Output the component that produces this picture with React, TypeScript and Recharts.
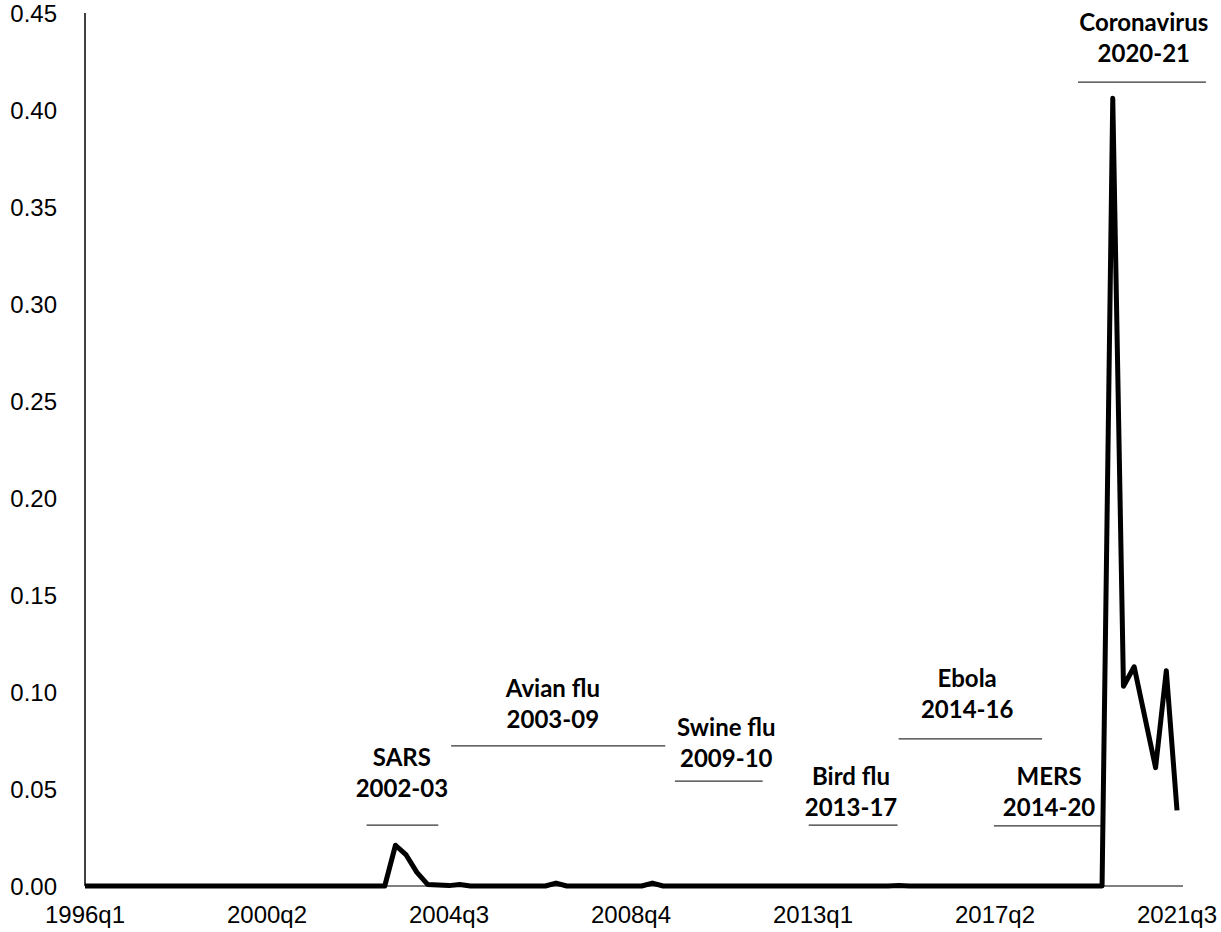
import React from 'react'
import { LineChart, Line, XAxis, YAxis, ReferenceLine, ReferenceDot } from 'recharts'

// quarterly labels, 1996q1 .. 2021q3
const QUARTERS = Array.from({ length: 103 }, (_, i) => `${1996 + Math.floor(i / 4)}q${(i % 4) + 1}`)

// pandemic uncertainty index, one row per year
const VALUES = [
  0, 0, 0, 0, // 1996
  0, 0, 0, 0, // 1997
  0, 0, 0, 0, // 1998
  0, 0, 0, 0, // 1999
  0, 0, 0, 0, // 2000
  0, 0, 0, 0, // 2001
  0, 0, 0, 0, // 2002
  0, 0.021, 0.016, 0.007, // 2003
  0.0008, 0.0005, 0.0002, 0.0008, // 2004
  0, 0, 0, 0, // 2005
  0, 0, 0, 0, // 2006
  0.0015, 0, 0, 0, // 2007
  0, 0, 0, 0, // 2008
  0, 0.0015, 0, 0, // 2009
  0, 0, 0, 0, // 2010
  0, 0, 0, 0, // 2011
  0, 0, 0, 0, // 2012
  0, 0, 0, 0, // 2013
  0, 0, 0, 0, // 2014
  0.0003, 0, 0, 0, // 2015
  0, 0, 0, 0, // 2016
  0, 0, 0, 0, // 2017
  0, 0, 0, 0, // 2018
  0, 0, 0, 0, // 2019
  0.406, 0.103, 0.113, 0.087, // 2020
  0.061, 0.111, 0.039, // 2021
]

const X_TICKS = [0, 17, 34, 51, 68, 85, 102]
const Y_TICKS = [0, 0.05, 0.1, 0.15, 0.2, 0.25, 0.3, 0.35, 0.4, 0.45]

// episode annotations (x in quarters since 1996q1, y in index units)
const EVENT_NAMES = ['SARS', 'Avian flu', 'Swine flu', 'Bird flu', 'Ebola', 'MERS', 'Coronavirus']
const EVENT_YEARS = ['2002-03', '2003-09', '2009-10', '2013-17', '2014-16', '2014-20', '2020-21']
const EVENT_FROM = [26.3, 34.2, 55.1, 67.6, 76.0, 84.9, 92.75]
const EVENT_TO = [33.0, 54.2, 63.3, 75.9, 89.4, 94.9, 104.7]
const EVENT_RULE = [0.0314, 0.0722, 0.0541, 0.0314, 0.0758, 0.031, 0.4144]
const EVENT_TEXT_X = [29.6, 43.7, 59.9, 71.55, 82.4, 90.05, 98.9]
const EVENT_TEXT_Y = [0.0459, 0.0814, 0.0613, 0.0361, 0.0866, 0.0361, 0.4247]

const data = VALUES.map((v, i) => ({ i, q: QUARTERS[i], v }))

const labelFont = 'Lato, "Open Sans", sans-serif'

function eventLabel(name: string, years: string) {
  return (props: any) => (
    <g>
      <text x={props.cx} y={props.cy - 31} textAnchor="middle" fontFamily={labelFont} fontWeight={700} fontSize={24} fill="#000">
        {name}
      </text>
      <text x={props.cx} y={props.cy} textAnchor="middle" fontFamily={labelFont} fontWeight={700} fontSize={24} fill="#000">
        {years}
      </text>
    </g>
  )
}

export default function App() {
  return (
    <div style={{ position: 'absolute', left: 0, top: 0, width: 1221, height: 932, background: '#fff' }}>
      <LineChart
        width={1221}
        height={932}
        data={data}
        margin={{ top: 13, right: 38, bottom: 0, left: 0 }}
        style={{ fontFamily: '"Liberation Sans", Arial, sans-serif' }}
      >
        <XAxis
          dataKey="i"
          type="number"
          domain={[0, 102]}
          ticks={X_TICKS}
          tickFormatter={(i: number) => QUARTERS[i]}
          padding={{ left: 0, right: 6 }}
          height={46}
          tickLine={false}
          tickSize={0}
          tickMargin={20}
          axisLine={{ stroke: '#000', strokeWidth: 1 }}
          tick={{ fill: '#000', fontSize: 24 }}
          interval={0}
        />
        <YAxis
          domain={[0, 0.45]}
          ticks={Y_TICKS}
          tickFormatter={(v: number) => v.toFixed(2)}
          width={85}
          tickLine={false}
          tickSize={0}
          tickMargin={28}
          axisLine={{ stroke: '#000', strokeWidth: 1.5 }}
          tick={{ fill: '#000', fontSize: 24 }}
          interval={0}
        />
        {EVENT_NAMES.map((name, k) => (
          <ReferenceLine
            key={`rule-${name}`}
            segment={[
              { x: EVENT_FROM[k], y: EVENT_RULE[k] },
              { x: EVENT_TO[k], y: EVENT_RULE[k] },
            ]}
            stroke="#333"
            strokeWidth={1.2}
            ifOverflow="visible"
          />
        ))}
        {EVENT_NAMES.map((name, k) => (
          <ReferenceDot
            key={`text-${name}`}
            x={EVENT_TEXT_X[k]}
            y={EVENT_TEXT_Y[k]}
            r={0}
            ifOverflow="visible"
            shape={eventLabel(name, EVENT_YEARS[k])}
          />
        ))}
        <Line
          type="linear"
          dataKey="v"
          stroke="#000"
          strokeWidth={5}
          strokeLinejoin="round"
          dot={false}
          activeDot={false}
          isAnimationActive={false}
        />
      </LineChart>
    </div>
  )
}
